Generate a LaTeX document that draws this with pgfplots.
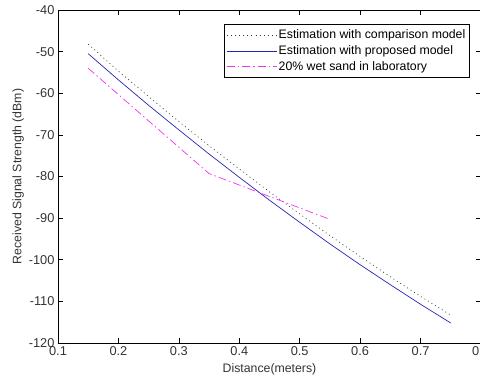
\documentclass[border=0pt]{standalone}
\usepackage{fontspec}
\setmainfont{Liberation Sans}
\usepackage{pgfplots}
\pgfplotsset{compat=1.18}
\usetikzlibrary{calc}
\definecolor{navy}{rgb}{0.15,0.15,0.7}
\definecolor{mag}{rgb}{0.95,0.2,0.95}
\begin{document}
\begin{tikzpicture}
\begin{axis}[
  scale only axis,
  width=423pt, height=333pt,
  xmin=0.1, xmax=0.8, ymin=-120, ymax=-40,
  xtick={0.1,0.2,...,0.8}, ytick={-120,-110,...,-40},
  xticklabels={0.1,0.2,0.3,0.4,0.5,0.6,0.7,0.8},
  tick align=inside, tick pos=both,
  major tick length=5pt,
  axis line style={line width=0.6pt},
  every tick/.style={black, line width=0.5pt},
  /pgf/number format/assume math mode=true,
  tick label style={font=\fontsize{12.8}{14}\selectfont, text=black!80},
  label style={font=\fontsize{12.3}{14}\selectfont, text=black!80},
  xlabel={Distance(meters)},
  ylabel={Received Signal Strength (dBm)},
  xlabel style={yshift=-1pt},
  ylabel style={yshift=-2pt},
  legend style={at={(rel axis cs:0.972,0.958)}, anchor=north east,
    font=\fontsize{12.3}{15}\selectfont, draw=black, line width=0.6pt,
    inner xsep=2pt, inner ysep=4pt, row sep=2.5pt,
    nodes={inner sep=1.5pt}},
  legend cell align=left,
  legend image code/.code={\draw[#1] (0pt,0pt) -- (50pt,0pt);},
]
\addplot[black!80, line width=0.7pt, dash pattern=on 0.9pt off 3.2pt] coordinates {
(0.15,-48.2) (0.20,-54.7) (0.25,-60.8) (0.30,-66.8) (0.35,-72.6) (0.40,-78.2)
(0.45,-83.7) (0.50,-89.0) (0.55,-94.2) (0.60,-99.2) (0.65,-104.1) (0.70,-108.8) (0.75,-113.3)};
\addlegendentry{Estimation with comparison model}
\addplot[navy, line width=0.7pt] coordinates {
(0.15,-50.5) (0.20,-56.8) (0.25,-62.9) (0.30,-68.8) (0.35,-74.6) (0.40,-80.2)
(0.45,-85.7) (0.50,-91.0) (0.55,-96.2) (0.60,-101.2) (0.65,-106.0) (0.70,-110.7) (0.75,-115.2)};
\addlegendentry{Estimation with proposed model}
\addplot[mag, line width=0.7pt, dash pattern=on 8pt off 3pt on 1.5pt off 3pt] coordinates {
(0.15,-54.0) (0.35,-79.3) (0.55,-90.3)};
\addlegendentry{20\% wet sand in laboratory}
\end{axis}
\pgfresetboundingbox
\useasboundingbox ($(current axis.south west)+(-58pt,-38pt)$) rectangle ($(current axis.north west)+(422pt,10pt)$);
\end{tikzpicture}
\end{document}
